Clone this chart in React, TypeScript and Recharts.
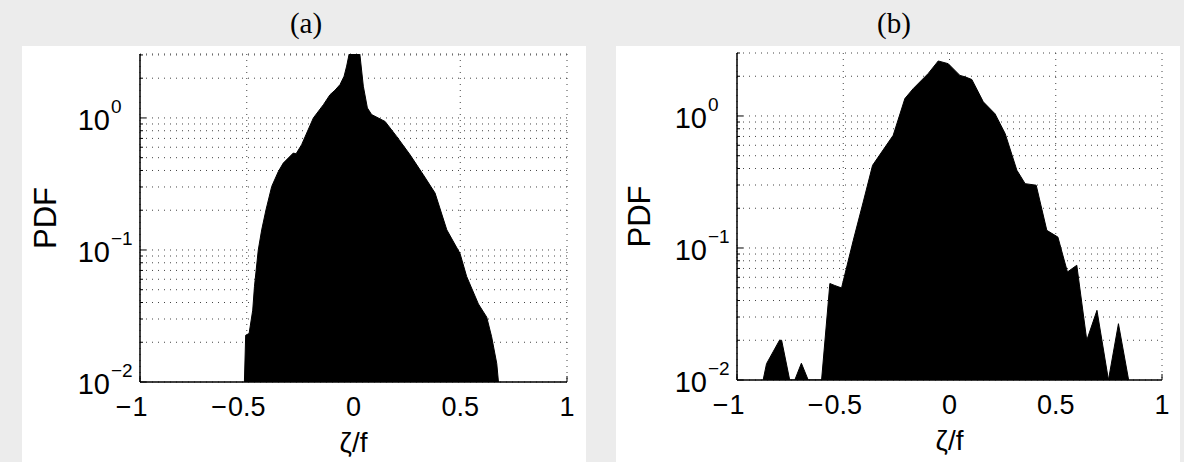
import React from 'react';
import { ComposedChart, Area, XAxis, YAxis, CartesianGrid } from 'recharts';

// ---- shared axis definitions ----
const xTicks = [-1, -0.5, 0, 0.5, 1];
const xTickLabels = ['\u22121', '\u22120.5', '0', '0.5', '1'];
const yMajorTicks = [0.01, 0.1, 1];
const yMajorExponents = ['\u22122', '\u22121', '0'];
const yAllTicks = [
  0.01, 0.02, 0.03, 0.04, 0.05, 0.06, 0.07, 0.08, 0.09,
  0.1, 0.2, 0.3, 0.4, 0.5, 0.6, 0.7, 0.8, 0.9,
  1, 2, 3,
];
const xLabel = '\u03B6/f';
const yLabel = 'PDF';

// ---- panel (a) ----
const zetaA = [
  -0.511, -0.505, -0.489, -0.472, -0.464, -0.446, -0.43, -0.41, -0.383, -0.352,
  -0.329, -0.282, -0.269, -0.243, -0.219, -0.188, -0.141, -0.11, -0.087, -0.063,
  -0.044, -0.032, -0.021, 0.004, 0.03, 0.046, 0.065, 0.085, 0.148, 0.202,
  0.265, 0.327, 0.382, 0.437, 0.499, 0.53, 0.585, 0.624, 0.647, 0.671, 0.679,
];
const pdfA = [
  0.01, 0.0226, 0.0233, 0.035, 0.0526, 0.1, 0.142, 0.201, 0.303, 0.393,
  0.455, 0.542, 0.535, 0.627, 0.769, 1.0, 1.26, 1.5, 1.62, 1.79,
  2.07, 2.47, 3.02, 10, 3.02, 1.74, 1.19, 1.06, 0.94, 0.725,
  0.526, 0.371, 0.27, 0.142, 0.094, 0.063, 0.039, 0.031, 0.022, 0.0138, 0.01,
];

// ---- panel (b) ----
const zetaB = [
  -0.877, -0.861, -0.8, -0.79, -0.752, -0.728, -0.697, -0.665, -0.602, -0.563,
  -0.54, -0.508, -0.453, -0.406, -0.362, -0.265, -0.21, -0.171, -0.1, -0.053,
  -0.006, 0.049, 0.073, 0.105, 0.159, 0.214, 0.262, 0.317, 0.356, 0.408,
  0.458, 0.51, 0.555, 0.599, 0.646, 0.694, 0.748, 0.795, 0.843,
];
const pdfB = [
  0.01, 0.0133, 0.02, 0.02, 0.01, 0.01, 0.0134, 0.01, 0.01, 0.0538,
  0.052, 0.0498, 0.114, 0.223, 0.423, 0.714, 1.355, 1.61, 2.1, 2.61,
  2.49, 2.03, 1.98, 1.89, 1.28, 1.04, 0.735, 0.388, 0.307, 0.299,
  0.136, 0.121, 0.0658, 0.074, 0.02, 0.0337, 0.01, 0.0267, 0.01,
];

const SANS = '"Liberation Sans", Arial, Helvetica, sans-serif';
const SERIF = '"Liberation Serif", "Times New Roman", serif';
const LEFT_MARGIN = 40;
const BOTTOM_MARGIN = 40;
const X_FONT = 27;

const digitsWidth = (s: string, fs: number) =>
  s.split('').reduce((w, c) => w + (c === '.' ? 0.278 : 0.556) * fs, 0);

const LeftTick = (props: any) => {
  const { x, y, payload } = props;
  const v = payload.value;
  const idx = yMajorTicks.indexOf(v);
  const edge = x + LEFT_MARGIN;
  const len = idx >= 0 ? 6 : 3;
  return (
    <g>
      <line x1={edge} x2={edge + len} y1={y} y2={y} stroke="#000" strokeWidth={1} />
      {idx >= 0 && (
        <g fontFamily={SANS} fill="#000">
          <text x={edge - 30} y={y + 12} textAnchor="end" fontSize={29}>10</text>
          <text x={edge - 29} y={y - 5} textAnchor="start" fontSize={19}>{yMajorExponents[idx]}</text>
        </g>
      )}
    </g>
  );
};

const RightTick = (props: any) => {
  const { x, y, payload } = props;
  const len = yMajorTicks.indexOf(payload.value) >= 0 ? 6 : 3;
  return <line x1={x} x2={x - len} y1={y} y2={y} stroke="#000" strokeWidth={1} />;
};

const BottomTick = (props: any) => {
  const { x, y, payload } = props;
  const edge = y - BOTTOM_MARGIN;
  const idx = xTicks.indexOf(payload.value);
  const label = xTickLabels[idx] ?? '';
  const neg = label.startsWith('\u2212');
  const digits = neg ? label.slice(1) : label;
  const half = digitsWidth(digits, X_FONT) / 2;
  return (
    <g>
      <line x1={x} x2={x} y1={edge} y2={edge - 6} stroke="#000" strokeWidth={1} />
      <g fontSize={X_FONT} fontFamily={SANS} fill="#000">
        <text x={x} y={edge + 34} textAnchor="middle">{digits}</text>
        {neg && (
          <text x={x - half - 1} y={edge + 34} textAnchor="end">{'\u2212'}</text>
        )}
      </g>
    </g>
  );
};

const TopTick = (props: any) => {
  const { x, y } = props;
  return <line x1={x} x2={x} y1={y} y2={y + 6} stroke="#000" strokeWidth={1} />;
};

type PanelProps = {
  title: string;
  zeta: number[];
  pdf: number[];
  left: number;
  titleX: number;
  margin: { top: number; right: number };
  yAxisWidth: number;
  xAxisHeight: number;
  yMax: number;
  yLabelOffset: number;
};

const AXIS_LINE = { stroke: '#000', strokeWidth: 1.5 };

const Panel = ({ title, zeta, pdf, left, titleX, margin, yAxisWidth, xAxisHeight, yMax, yLabelOffset }: PanelProps) => {
  const data = zeta.map((z, i) => ({ zeta: z, pdf: pdf[i] }));
  return (
    <>
      <div
        style={{
          position: 'absolute',
          left: titleX - 60,
          width: 120,
          top: 6,
          textAlign: 'center',
          fontFamily: SERIF,
          fontSize: 29,
          lineHeight: '34px',
          color: '#000',
        }}
      >
        {title}
      </div>
      <div style={{ position: 'absolute', left, top: 46, width: 564, height: 416, background: '#fff' }}>
        <ComposedChart
          width={564}
          height={416}
          data={data}
          margin={{ top: margin.top, right: margin.right, left: 0, bottom: 0 }}
        >
          <CartesianGrid stroke="#444" strokeDasharray="1 5" strokeWidth={1} />
          <XAxis
            dataKey="zeta"
            type="number"
            domain={[-1, 1]}
            ticks={xTicks}
            interval={0}
            allowDataOverflow
            height={xAxisHeight}
            axisLine={AXIS_LINE}
            tickLine={false}
            tickSize={0}
            tickMargin={BOTTOM_MARGIN}
            tick={(p: any) => <BottomTick {...p} />}
            label={(p: any) => {
              const vb = p.viewBox;
              return (
                <text
                  x={vb.x + vb.width / 2}
                  y={vb.y + 70}
                  textAnchor="middle"
                  fontSize={28}
                  fontFamily={SANS}
                  fill="#000"
                >
                  {xLabel}
                </text>
              );
            }}
          />
          <XAxis
            xAxisId="top"
            dataKey="zeta"
            type="number"
            orientation="top"
            domain={[-1, 1]}
            ticks={xTicks}
            interval={0}
            allowDataOverflow
            height={0}
            axisLine={AXIS_LINE}
            tickLine={false}
            tickSize={0}
            tickMargin={0}
            tick={(p: any) => <TopTick {...p} />}
          />
          <YAxis
            type="number"
            scale="log"
            domain={[0.01, yMax]}
            ticks={yAllTicks}
            interval={0}
            allowDataOverflow
            width={yAxisWidth}
            axisLine={AXIS_LINE}
            tickLine={false}
            tickSize={0}
            tickMargin={LEFT_MARGIN}
            tick={(p: any) => <LeftTick {...p} />}
            label={(p: any) => {
              const vb = p.viewBox;
              const cx = vb.x + vb.width - yLabelOffset;
              const cy = vb.y + vb.height / 2;
              return (
                <text
                  x={cx}
                  y={cy}
                  transform={`rotate(-90 ${cx} ${cy})`}
                  textAnchor="middle"
                  dominantBaseline="central"
                  fontSize={31}
                  fontFamily={SANS}
                  fill="#000"
                >
                  {yLabel}
                </text>
              );
            }}
          />
          <YAxis
            yAxisId="right"
            orientation="right"
            type="number"
            scale="log"
            domain={[0.01, yMax]}
            ticks={yAllTicks}
            interval={0}
            allowDataOverflow
            width={0}
            axisLine={AXIS_LINE}
            tickLine={false}
            tickSize={0}
            tickMargin={0}
            tick={(p: any) => <RightTick {...p} />}
          />
          <Area
            dataKey="pdf"
            type="linear"
            stroke="#000"
            strokeWidth={1}
            fill="#000"
            fillOpacity={1}
            dot={false}
            activeDot={false}
            isAnimationActive={false}
          />
        </ComposedChart>
      </div>
    </>
  );
};

export default function App() {
  return (
    <div
      style={{
        position: 'absolute',
        left: 0,
        top: 0,
        width: 1184,
        height: 462,
        background: '#ececec',
        overflow: 'hidden',
      }}
    >
      <Panel
        title="(a)"
        zeta={zetaA}
        pdf={pdfA}
        left={22}
        titleX={306}
        margin={{ top: 8, right: 19 }}
        yAxisWidth={118}
        xAxisHeight={80}
        yMax={3.05}
        yLabelOffset={95}
      />
      <Panel
        title="(b)"
        zeta={zetaB}
        pdf={pdfB}
        left={616}
        titleX={894}
        margin={{ top: 7, right: 18 }}
        yAxisWidth={121}
        xAxisHeight={82}
        yMax={3.0}
        yLabelOffset={98}
      />
    </div>
  );
}
